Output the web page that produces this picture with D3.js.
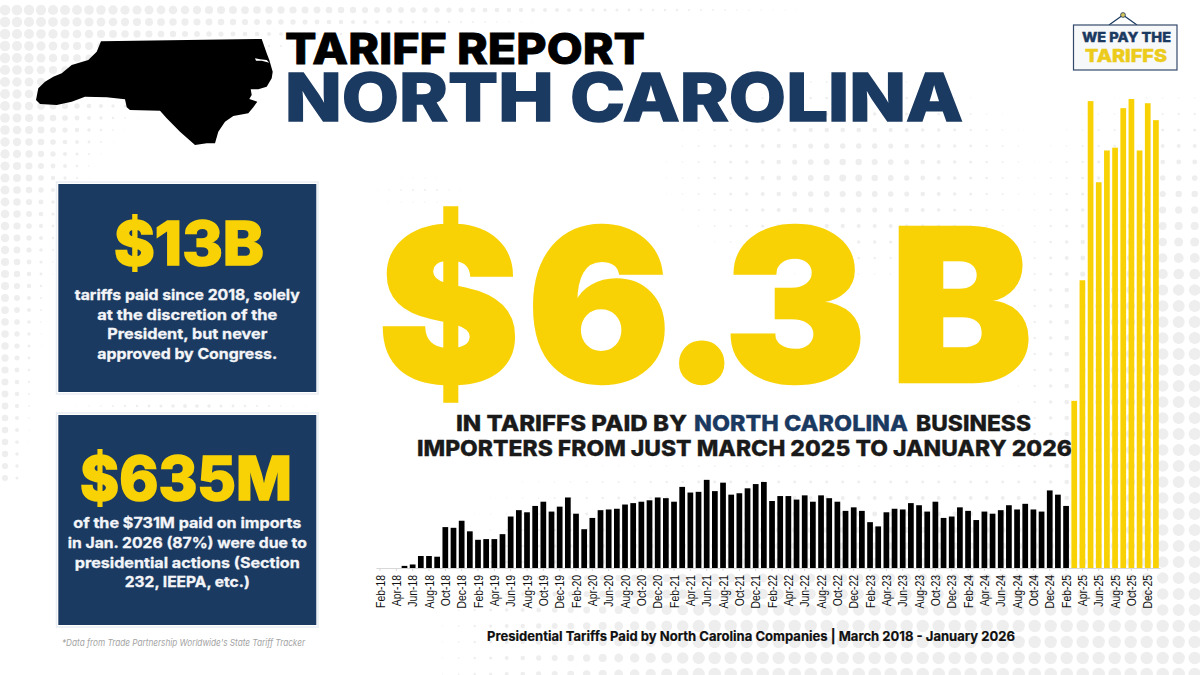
<!DOCTYPE html>
<html>
<head>
<meta charset="utf-8">
<script src="https://cdn.jsdelivr.net/npm/d3@7"></script>
<style>
  html, body { margin: 0; padding: 0; background: #fff; }
  text { font-family: Inter, "Open Sans", sans-serif; }
</style>
</head>
<body>
<script>
// Month labels, one bar each
const months = [
  "Feb-18","Mar-18","Apr-18","May-18","Jun-18","Jul-18","Aug-18","Sep-18","Oct-18","Nov-18","Dec-18",
  "Jan-19","Feb-19","Mar-19","Apr-19","May-19","Jun-19","Jul-19","Aug-19","Sep-19","Oct-19","Nov-19","Dec-19",
  "Jan-20","Feb-20","Mar-20","Apr-20","May-20","Jun-20","Jul-20","Aug-20","Sep-20","Oct-20","Nov-20","Dec-20",
  "Jan-21","Feb-21","Mar-21","Apr-21","May-21","Jun-21","Jul-21","Aug-21","Sep-21","Oct-21","Nov-21","Dec-21",
  "Jan-22","Feb-22","Mar-22","Apr-22","May-22","Jun-22","Jul-22","Aug-22","Sep-22","Oct-22","Nov-22","Dec-22",
  "Jan-23","Feb-23","Mar-23","Apr-23","May-23","Jun-23","Jul-23","Aug-23","Sep-23","Oct-23","Nov-23","Dec-23",
  "Jan-24","Feb-24","Mar-24","Apr-24","May-24","Jun-24","Jul-24","Aug-24","Sep-24","Oct-24","Nov-24","Dec-24",
  "Jan-25","Feb-25","Mar-25","Apr-25","May-25","Jun-25","Jul-25","Aug-25","Sep-25","Oct-25","Nov-25","Dec-25",
  "Jan-26"
];

// Tariffs paid per month in $M
const beforeValues = [
  0,0,0,3,5,17,17,16,58,57,67,
  52,40,41,41,48,73,82,79,88,94,80,87,
  100,77,55,71,82,83,84,90,92,94,96,100,
  99,94,115,107,108,125,109,121,104,106,113,119,
  122,95,102,102,97,103,94,103,99,94,81,86,
  81,65,59,79,84,83,92,89,80,94,71,73,
  86,81,68,80,77,82,89,83,91,83,80,110,
  104,88
];
const afterValues = [237,408,662,547,592,596,652,665,592,659,635];
const allValues = beforeValues.concat(afterValues);

const tickLabels = months.filter((d, i) => i % 2 === 0);

const NAVY = "#1b3a61";
const YELLOW = "#f8d205";
const DOT = "#eeeeee";

// Outline of the state for the corner graphic
const statePoints = [
  [101,41.3],[261.7,39],[266.7,53.3],[269.3,60],[272.7,71.7],[271.7,78.3],[266.7,86.7],[258.3,89.3],
  [250.7,89.3],[251.7,95],[249.3,99],[257.3,101.7],[253.3,107.3],[248.3,113.3],[233.3,116],[225,121.7],
  [218.3,131.7],[215,143.3],[206.7,143.3],[195,145],[180,131.7],[166.7,118.3],[160,110.7],[130,110],
  [126.7,107.3],[125,99.3],[106.7,97.3],[85,96.7],[71.7,101.7],[56.7,105],[40,104],[36,100],
  [38.3,88.3],[45,81.7],[53.3,76.7],[61.7,73.3],[71.7,65],[88.3,60],[96.7,51.7]
];
const notchPoints = [[255,58.3],[260,59.3],[266.7,60],[269.3,62.7],[261.7,60.7],[256,60.7]];

const svg = d3.select("body").append("svg")
  .attr("width", 1200)
  .attr("height", 675)
  .style("display", "block");

// Halftone dots behind everything
const dots = svg.append("g");
const ramp = (v, a, b) => Math.max(0, Math.min(1, (v - a) / (b - a)));
const blob = (x, y, cx, cy, rx, ry, r) =>
  r * Math.max(0, 1 - Math.hypot((x - cx) / rx, (y - cy) / ry));

function addDot(x, y, r) {
  if (r > 0.35) dots.append("circle").attr("cx", x).attr("cy", y).attr("r", r).attr("fill", DOT);
}
// fine grid, top left corner
for (let y = 10; y < 480; y += 12) {
  for (let x = 5; x < 900; x += 12) {
    const r = Math.max(
      5.5 * (1 - (x + 15) * (y + 15) / 22000),
      blob(x, y, 190, 405, 150, 22, 2),
      blob(x, y, 420, 192, 70, 25, 1.2)
    );
    addDot(x, y, r);
  }
}
// wider grid, middle, right side and bottom
for (let y = 2; y < 680; y += 16) {
  for (let x = 10.7; x < 1205; x += 16) {
    const r = Math.max(
      blob(x, y, 850, 175, 215, 125, 3.6),
      6 * ramp(x, 1000, 1170) * ramp(y, 70, 300),
      6.2 * ramp(x, 420, 700) * ramp(y, 440, 625)
    );
    addDot(x, y, r);
  }
}

// Stretch a text to the width it has in the picture, bold is thickened with a thin stroke
function fitted(parent, str, x, baseline, width, size, weight, fill, thick) {
  return parent.append("text")
    .attr("x", x)
    .attr("y", baseline)
    .attr("textLength", width)
    .attr("lengthAdjust", "spacingAndGlyphs")
    .attr("font-size", size)
    .attr("font-weight", weight)
    .attr("fill", fill)
    .attr("stroke", thick ? fill : "none")
    .attr("stroke-width", thick || 0)
    .text(str);
}

// State shape
const outline = d3.line().curve(d3.curveLinearClosed);
svg.append("path").attr("d", outline(statePoints)).attr("fill", "#000");
svg.append("path").attr("d", outline(notchPoints)).attr("fill", "#fff");

// Title
fitted(svg, "TARIFF REPORT", 285, 64, 360, 43, 800, "#000", 0.8);
fitted(svg, "NORTH CAROLINA", 285, 120.5, 678, 66, 800, NAVY, 1.4);

// Logo
const logo = svg.append("g");
logo.append("path").attr("d", "M1109,25 L1123,15 L1137,25").attr("fill", "none").attr("stroke", NAVY).attr("stroke-width", 1.2);
logo.append("circle").attr("cx", 1123).attr("cy", 15).attr("r", 2.4).attr("fill", "#d8c65a").attr("stroke", NAVY).attr("stroke-width", 0.8);
logo.append("rect").attr("x", 1073.5).attr("y", 25).attr("width", 103.5).attr("height", 45)
  .attr("fill", "#f7f8fa").attr("stroke", "#33496b").attr("stroke-width", 1.2);
fitted(logo, "WE PAY THE", 1082, 41.5, 89, 13.5, 800, NAVY, 0.4);
fitted(logo, "TARIFFS", 1085, 62, 82, 18, 800, "#eccb1a", 0.5);

// Left boxes
function statBox(y, h, big, bigX, bigW, bigBase, lines) {
  svg.append("rect").attr("x", 56.5).attr("y", y - 2).attr("width", 261.5).attr("height", h + 4)
    .attr("fill", "#fff").attr("stroke", "#e9eef3").attr("stroke-width", 1.5);
  svg.append("rect").attr("x", 58.3).attr("y", y).attr("width", 258).attr("height", h).attr("fill", NAVY);
  fitted(svg, big, bigX, bigBase, bigW, 60, 800, YELLOW, 1.6);
  lines.forEach((l) => {
    fitted(svg, l[0], 187.3 - l[2] / 2, l[1], l[2], 14.5, 700, "#f3f5f8", 0.3);
  });
}
statBox(184, 208, "$13B", 114, 150, 265, [
  ["tariffs paid since 2018, solely", 300, 225],
  ["at the discretion of the", 319.5, 180],
  ["President, but never", 339, 160],
  ["approved by Congress.", 359, 180]
]);
statBox(415, 210, "$635M", 80, 212, 500, [
  ["of the $731M paid on imports", 528, 228],
  ["in Jan. 2026 (87%) were due to", 548, 239],
  ["presidential actions (Section", 568, 225],
  ["232, IEEPA, etc.)", 587, 125]
]);
fitted(svg, "*Data from Trade Partnership Worldwide's State Tariff Tracker", 62, 646, 243, 9.5, 400, "#a3a3a3")
  .attr("font-style", "italic");

// Big number, each glyph placed on its own x
svg.append("text")
  .attr("x", "378 527 662 724 890")
  .attr("y", 382)
  .attr("font-size", 213)
  .attr("font-weight", 900)
  .attr("fill", YELLOW)
  .attr("stroke", YELLOW)
  .attr("stroke-width", 2.5)
  .text("$6.3B");

// Subtitle
fitted(svg, "IN TARIFFS PAID BY", 456, 430.5, 231, 21.5, 800, "#1a1a1a", 0.3);
fitted(svg, "NORTH CAROLINA", 694, 430.5, 214, 21.5, 800, NAVY, 0.3);
fitted(svg, "BUSINESS", 916, 430.5, 115, 21.5, 800, "#1a1a1a", 0.3);
fitted(svg, "IMPORTERS FROM JUST MARCH 2025 TO JANUARY 2026", 417, 456, 655, 21.5, 800, "#1a1a1a", 0.3);

// Bars
const xScale = d3.scaleBand()
  .domain(months)
  .range([375.9, 1160])
  .paddingInner(0.3)
  .paddingOuter(0.15);

const yScale = d3.scaleLinear()
  .domain([0, 665])
  .range([568, 99]);

const chart = svg.append("g");

const xAxis = chart.append("g")
  .attr("transform", "translate(0, 568)")
  .call(d3.axisBottom(xScale).tickValues(tickLabels).tickSize(3).tickSizeOuter(0));
xAxis.select(".domain").attr("stroke", "#d8d8d8");
xAxis.selectAll(".tick line").attr("stroke", "#d8d8d8");
xAxis.selectAll(".tick text")
  .attr("transform", "translate(0, 7) rotate(-90) scale(0.8, 1)")
  .attr("text-anchor", "end")
  .attr("dx", 0)
  .attr("dy", "0.35em")
  .attr("x", 0)
  .attr("y", 0)
  .attr("fill", "#111")
  .style("font-family", '"Liberation Sans", Arial, sans-serif')
  .style("font-size", "13px");

chart.selectAll("rect")
  .data(allValues)
  .enter()
  .append("rect")
  .attr("x", (d, i) => xScale(months[i]))
  .attr("y", (d) => yScale(d))
  .attr("width", xScale.bandwidth())
  .attr("height", (d) => 568 - yScale(d))
  .attr("fill", (d, i) => (i < beforeValues.length ? "#000" : YELLOW));

// Chart caption
fitted(svg, "Presidential Tariffs Paid by North Carolina Companies | March 2018 - January 2026", 487, 640.5, 528, 13.5, 700, "#111", 0.2);
</script>
</body>
</html>
